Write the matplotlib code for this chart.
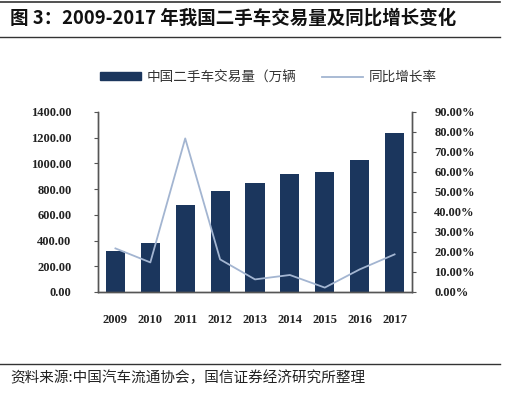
import matplotlib.pyplot as plt
from matplotlib.lines import Line2D
from matplotlib.patches import Patch

plt.rcParams['font.family'] = ['Noto Sans CJK SC', 'DejaVu Sans']

years = ['2009', '2010', '2011', '2012', '2013', '2014', '2015', '2016', '2017']
volume = [322, 384, 678, 785, 845, 918, 931, 1029, 1239]   # 万辆
growth = [21.8, 14.8, 76.8, 16.3, 6.3, 8.5, 2.2, 11.3, 18.8]  # %

bar_color = '#1b365d'
line_color = '#a3b5d1'
num_font = {'family': 'Liberation Serif', 'weight': 'bold', 'size': 9, 'color': '#222222'}

fig = plt.figure(figsize=(5.15, 3.93), dpi=100)
ax = fig.add_axes([98/515, 1-292/393, (412-98)/515, 180/393])
ax2 = ax.twinx()

x = range(len(years))
ax.bar(x, volume, width=0.55, color=bar_color, zorder=2)
ax2.plot(x, growth, color=line_color, lw=1.3, zorder=3)
ax.set_zorder(1)
ax2.set_zorder(2)
ax2.patch.set_visible(False)

ax.set_xlim(-0.5, len(years)-0.5)
ax.set_ylim(0, 1400)
ax2.set_ylim(0, 90)
ax.set_yticks(range(0, 1401, 200))
ax2.set_yticks(range(0, 91, 10))
ax.set_yticklabels(['%.2f' % v for v in range(0, 1401, 200)], fontdict=num_font)
ax2.set_yticklabels(['%.2f%%' % v for v in range(0, 91, 10)], fontdict=num_font)
ax.set_xticks(list(x))
ax.set_xticklabels(years, fontdict=num_font)

for a in (ax, ax2):
    a.spines['top'].set_visible(False)
    for s in a.spines.values():
        s.set_color('#555555')
        s.set_linewidth(1.0)
ax.tick_params(axis='x', length=0, pad=16)
ax.tick_params(axis='y', length=3, color='#555555', pad=16)
ax2.tick_params(axis='y', length=3, color='#555555', pad=13)

# 图例
handles = [Patch(color=bar_color), Line2D([], [], color=line_color, lw=1.3)]
labels = ['中国二手车交易量（万辆', '同比增长率']
fig.legend(handles, labels, loc='center left', bbox_to_anchor=(88/515, 1-77/393), ncol=2,
           frameon=False, fontsize=9.8, handlelength=3.0, handleheight=0.45,
           columnspacing=1.9, handletextpad=0.4, labelcolor='#333333')

# 标题与来源
fig.text(10/515, 1-18/393, '图 3：2009-2017 年我国二手车交易量及同比增长变化',
         fontsize=13.3, fontweight='bold', va='center', ha='left', color='#111111')
fig.add_artist(Line2D([0, 500/515], [1-2/393, 1-2/393], color='#333333', lw=1.2))
fig.add_artist(Line2D([0, 500/515], [1-37/393, 1-37/393], color='#333333', lw=1.0))
fig.add_artist(Line2D([0, 500/515], [1-364/393, 1-364/393], color='#333333', lw=1.0))
fig.text(10/515, 1-378/393, '资料来源:中国汽车流通协会，国信证券经济研究所整理',
         fontsize=10.5, va='center', ha='left', color='#222222')

fig.savefig('out.png', dpi=100)
